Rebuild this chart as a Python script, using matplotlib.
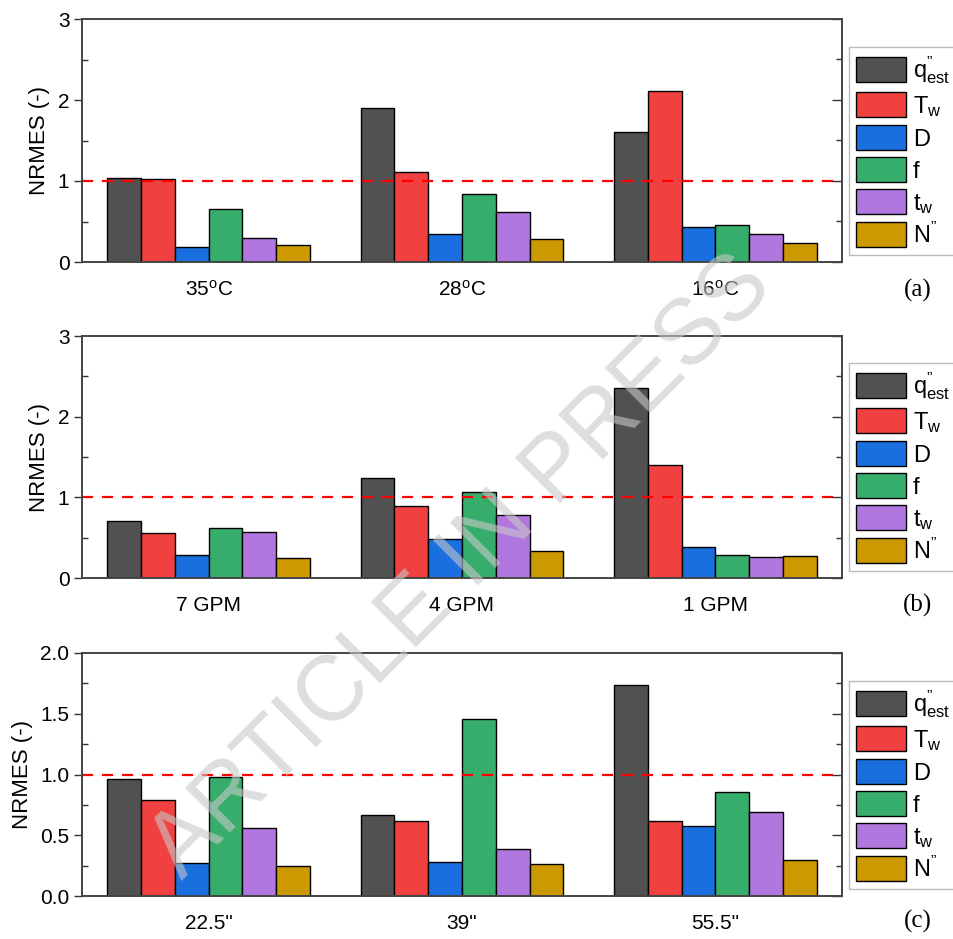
import matplotlib
matplotlib.use("Agg")
import matplotlib.pyplot as plt
import numpy as np

series_labels = ["q$^{\\mathregular{\u201d}}_{\\mathregular{est}}$", r"T$_{\mathregular{w}}$", "D", "f",
                 r"t$_{\mathregular{w}}$", "N$^{\\mathregular{\u201d}}$"]
colors = ["#515151", "#F14040", "#1A6FDF", "#37AD6B", "#B177DE", "#CC9900"]

cats_a = [r"35$^{\mathregular{o}}$C", r"28$^{\mathregular{o}}$C", r"16$^{\mathregular{o}}$C"]
vals_a = [
    [1.04, 1.90, 1.61],   # q''est
    [1.02, 1.11, 2.11],   # Tw
    [0.19, 0.35, 0.43],   # D
    [0.66, 0.84, 0.46],   # f
    [0.30, 0.62, 0.34],   # tw
    [0.21, 0.28, 0.23],   # N''
]
cats_b = ["7 GPM", "4 GPM", "1 GPM"]
vals_b = [
    [0.71, 1.24, 2.36],
    [0.56, 0.89, 1.40],
    [0.28, 0.48, 0.39],
    [0.62, 1.06, 0.28],
    [0.57, 0.78, 0.26],
    [0.25, 0.34, 0.27],
]
cats_c = ['22.5"', '39"', '55.5"']
vals_c = [
    [0.96, 0.67, 1.74],
    [0.79, 0.62, 0.62],
    [0.27, 0.28, 0.58],
    [0.98, 1.46, 0.86],
    [0.56, 0.39, 0.69],
    [0.25, 0.26, 0.30],
]
panel_tags = ["(a)", "(b)", "(c)"]
threshold = 1.0

plt.rcParams['font.family'] = ['Liberation Sans', 'DejaVu Sans']
plt.rcParams['mathtext.fontset'] = 'custom'
plt.rcParams['mathtext.rm'] = 'Liberation Sans'
plt.rcParams['mathtext.it'] = 'Liberation Sans'

W, H = 954, 939
fig = plt.figure(figsize=(W / 100, H / 100), dpi=100)

# axes boxes in pixels: left, right, top, bottom
boxes = [(82, 842, 19, 262), (82, 842, 336, 578), (82, 842, 653, 896)]
panels = [(cats_a, vals_a, 3, 1, 0.5), (cats_b, vals_b, 3, 1, 0.5), (cats_c, vals_c, 2, 0.5, 0.25)]
tag_y = [290, 605, 921]
label_x = [50, 50, 33]

n = len(series_labels)
group_w = 0.8
bw = group_w / n

for (l, r, t, b), (cats, vals, ymax, major, minor), tag, ty, lx in zip(boxes, panels, panel_tags, tag_y, label_x):
    ax = fig.add_axes([l / W, 1 - b / H, (r - l) / W, (b - t) / H])
    x = np.arange(len(cats))
    handles = []
    for i in range(n):
        h = ax.bar(x - group_w / 2 + bw * (i + 0.5), vals[i], width=bw, color=colors[i],
                   edgecolor="black", linewidth=1.0, label=series_labels[i])
        handles.append(h)
    ax.axhline(threshold, color="#FF0000", linestyle=(0, (5, 4)), linewidth=1.6, zorder=3)
    ax.set_xlim(-0.5, 2.5)
    ax.set_ylim(0, ymax)
    ax.set_xticks(x)
    ax.set_xticklabels(cats, fontsize=15)
    ax.tick_params(axis='x', length=0, pad=13)
    majors = np.arange(0, ymax + 1e-9, major)
    minors = np.arange(minor, ymax, major)
    ax.set_yticks(majors)
    if ymax == 2:
        ax.set_yticklabels([f"{v:.1f}" for v in majors])
    ax.set_yticks(minors, minor=True)
    ax.tick_params(axis='y', which='major', direction='out', length=6, width=1,
                   labelsize=15, color="#333333", pad=3)
    ax.tick_params(axis='y', which='minor', direction='in', length=4, width=1, color="#333333")
    # right side ticks (inward)
    ax2 = ax.twinx()
    ax2.set_ylim(0, ymax)
    ax2.set_yticks(majors)
    ax2.set_yticks(minors, minor=True)
    ax2.tick_params(axis='y', which='major', direction='in', length=7, width=1,
                    labelright=False, color="#333333")
    ax2.tick_params(axis='y', which='minor', direction='in', length=4, width=1, color="#333333")
    ax.set_ylabel("NRMES (-)", fontsize=16)
    ax.yaxis.set_label_coords((lx - l) / (r - l), 0.5)
    for a in (ax, ax2):
        for s in a.spines.values():
            s.set_color("#444444")
            s.set_linewidth(1.2)
    leg = ax2.legend(handles=handles, loc="upper left",
                     bbox_to_anchor=(849 / W, 1 - (b - 215) / H), bbox_transform=fig.transFigure,
                     fontsize=17, frameon=True, fancybox=False, edgecolor="#aaaaaa",
                     handlelength=2.1, handleheight=1.25, handletextpad=0.3,
                     labelspacing=0.28, borderpad=0.3, borderaxespad=0.0)
    leg.get_frame().set_linewidth(1.0)
    fig.text(918 / W, 1 - ty / H, tag, fontsize=18, family="Liberation Serif",
             ha="center", va="center")

fig.text(462 / W, 1 - 568 / H, "ARTICLE IN PRESS", fontsize=66, color="#c8c8c8",
         alpha=0.6, rotation=45, ha="center", va="center", zorder=10)

fig.savefig("out.png", dpi=100)
